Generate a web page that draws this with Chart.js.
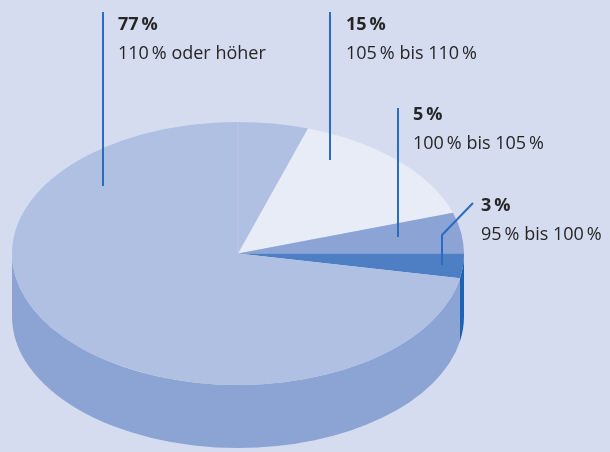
<!DOCTYPE html>
<html>
<head>
<meta charset="utf-8">
<script src="https://cdn.jsdelivr.net/npm/chart.js@4/dist/chart.umd.min.js"></script>
<style>
  html, body { margin: 0; padding: 0; background: #d5dcef; }
  #wrap { position: relative; width: 610px; height: 452px; overflow: hidden; }
  canvas { display: block; }
</style>
</head>
<body>
<div id="wrap"><canvas id="c" width="610" height="452"></canvas></div>
<script>
// ---- data ----
const categories = ['105\u2009% bis 110\u2009%', '100\u2009% bis 105\u2009%', '95\u2009% bis 100\u2009%', '110\u2009% oder höher'];
const shares = [15, 5, 3, 77];
const shareLabels = ['15\u2009%', '5\u2009%', '3\u2009%', '77\u2009%'];

// ---- styles / layout ----
const topColors  = ['#e7ecf7', '#8ba3d5', '#4e7ec4', '#b0c0e2'];
const sideColors = ['#c9d3ec', '#7089c4', '#1d62b3', '#8ba4d4'];
const ELLIPSE = { cx: 238, cy: 253.5, rx: 226, ry: 131.5, depth: 63 };
const START_ROTATION = 18; // degrees
const labelPos = [ {x:346, y:30}, {x:413, y:120}, {x:481, y:211}, {x:118, y:30} ];
const leaderLines = [
  [[330, 12], [330, 160]],
  [[398, 108], [398, 237]],
  [[473, 203], [442, 235], [442, 265]],
  [[103, 12], [103, 186]]
];

const pie3d = {
  id: 'pie3d',
  beforeDatasetsDraw(chart) {
    const ctx = chart.ctx;
    const meta = chart.getDatasetMeta(0);
    const p0 = meta.data[0].getProps(['x', 'y', 'outerRadius'], true);
    const sx = ELLIPSE.rx / p0.outerRadius, sy = ELLIPSE.ry / p0.outerRadius;
    ctx.save();
    ctx.translate(ELLIPSE.cx, ELLIPSE.cy);
    ctx.scale(sx, sy);
    ctx.translate(-p0.x, -p0.y);
    const D = ELLIPSE.depth / sy;
    meta.data.forEach((arc, i) => {
      const p = arc.getProps(['x', 'y', 'startAngle', 'endAngle', 'outerRadius'], true);
      for (let k = -1; k <= 1; k++) {
        const lo = 2 * Math.PI * k, hi = Math.PI + 2 * Math.PI * k;
        const a = Math.max(p.startAngle, lo), b = Math.min(p.endAngle, hi);
        if (b > a) {
          ctx.beginPath();
          ctx.arc(p.x, p.y, p.outerRadius, a, b);
          ctx.arc(p.x, p.y + D, p.outerRadius, b, a, true);
          ctx.closePath();
          ctx.fillStyle = sideColors[i];
          ctx.fill();
        }
      }
    });
  },
  afterDatasetsDraw(chart) {
    const ctx = chart.ctx;
    const meta = chart.getDatasetMeta(0);
    const p0 = meta.data[0].getProps(['x', 'y', 'outerRadius'], true);
    // faint seam at top
    ctx.beginPath();
    ctx.moveTo(p0.x, p0.y);
    ctx.lineTo(p0.x, p0.y - p0.outerRadius);
    ctx.strokeStyle = 'rgba(200,210,236,0.6)';
    ctx.lineWidth = 1;
    ctx.stroke();
    ctx.restore();

    // leader lines
    ctx.save();
    ctx.strokeStyle = '#2a6dbf';
    ctx.lineWidth = 2;
    leaderLines.forEach(pts => {
      ctx.beginPath();
      pts.forEach((pt, j) => j ? ctx.lineTo(pt[0], pt[1]) : ctx.moveTo(pt[0], pt[1]));
      ctx.stroke();
    });
    // labels
    ctx.fillStyle = '#262626';
    ctx.textBaseline = 'alphabetic';
    ctx.textAlign = 'left';
    shares.forEach((v, i) => {
      const lp = labelPos[i];
      ctx.font = 'bold 18px "Open Sans"';
      ctx.fillText(shareLabels[i], lp.x, lp.y);
      ctx.font = '18px "Open Sans"';
      ctx.fillText(categories[i], lp.x, lp.y + 29);
    });
    ctx.restore();
  }
};

new Chart(document.getElementById('c'), {
  type: 'pie',
  data: {
    labels: categories,
    datasets: [{
      data: shares,
      backgroundColor: topColors,
      borderWidth: 0
    }]
  },
  options: {
    responsive: false,
    animation: false,
    rotation: START_ROTATION,
    layout: { padding: 0 },
    plugins: { legend: { display: false }, tooltip: { enabled: false } }
  },
  plugins: [pie3d]
});
</script>
</body>
</html>
